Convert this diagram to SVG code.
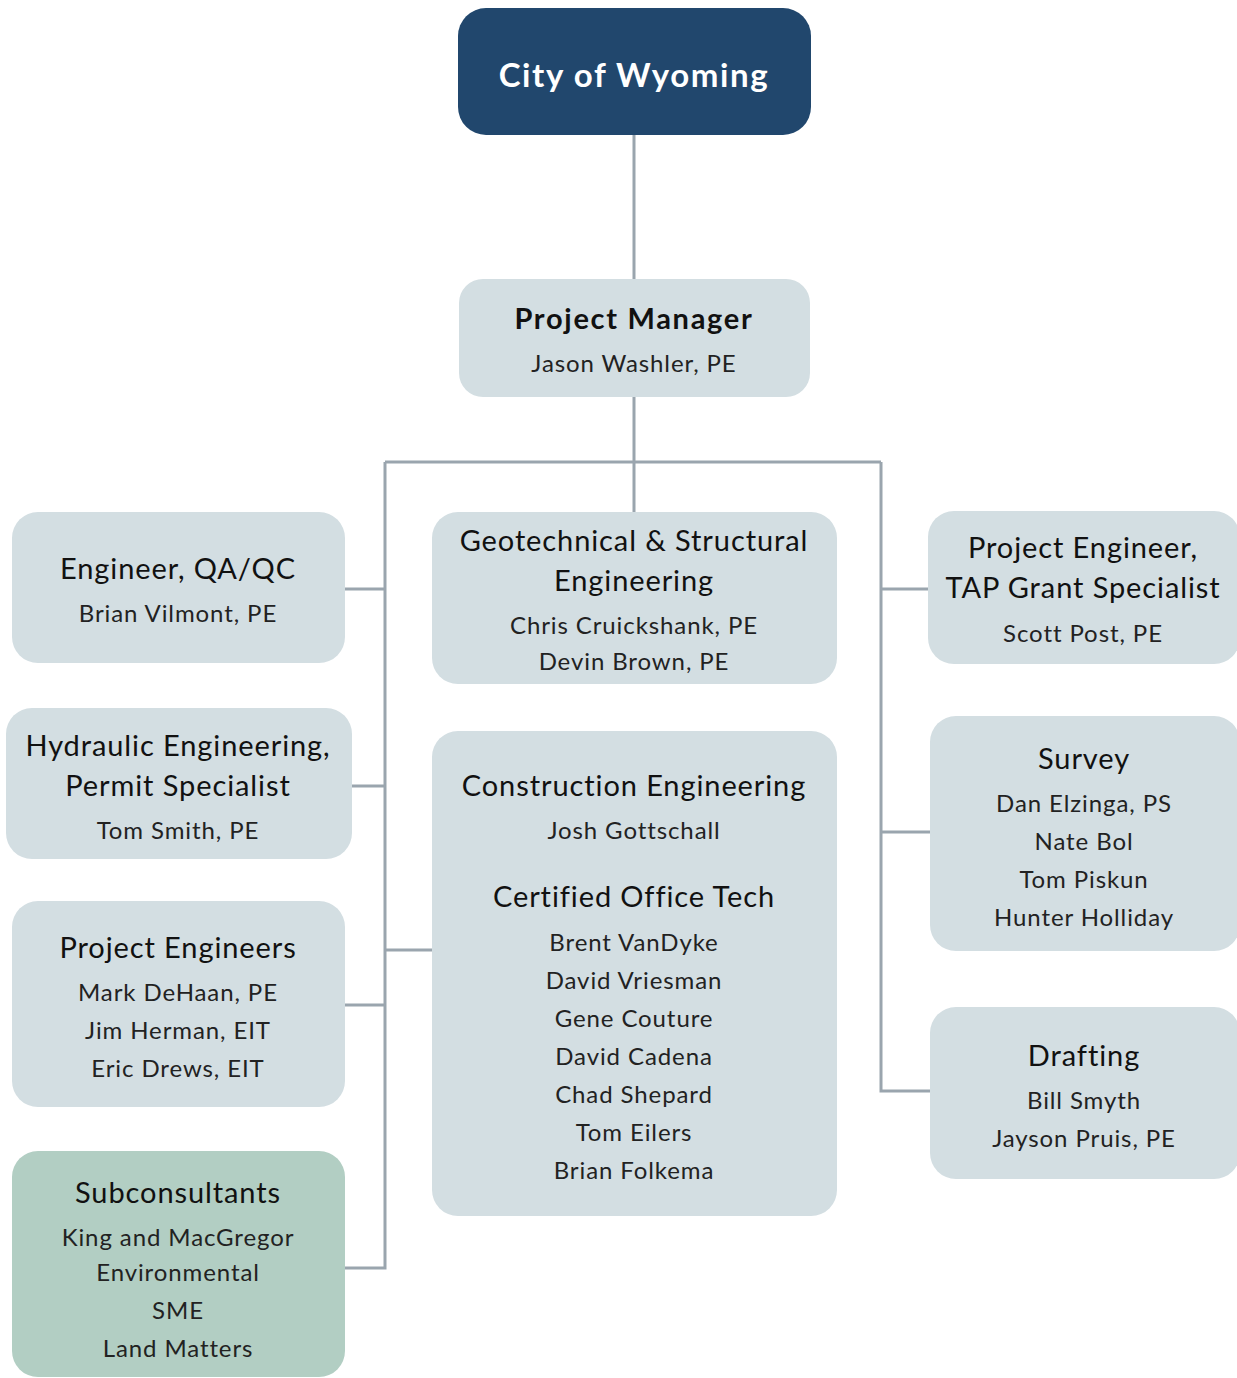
<svg xmlns="http://www.w3.org/2000/svg" width="1237" height="1378" viewBox="0 0 1237 1378">
<style>
.box{fill:#D3DEE2}
.sub{fill:#B2CEC3}
.t{font-family:Lato,"Open Sans",sans-serif;font-size:29px;letter-spacing:0.9px;fill:#111;text-anchor:middle}
.n{font-family:Lato,"Open Sans",sans-serif;font-size:24px;letter-spacing:0.9px;fill:#222;text-anchor:middle}
.b{font-weight:bold}
#connectors path{fill:none;stroke:#9AA5AE;stroke-width:3}
</style>
<rect width="1237" height="1378" fill="#fff"/>
<g id="connectors">
<path d="M634 135V512"/>
<path d="M385 462H881"/>
<path d="M385 462V1268H345"/>
<path d="M881 462V1091H930"/>
<path d="M345 589H385"/>
<path d="M352 786H385"/>
<path d="M345 1005H385"/>
<path d="M385 950H432"/>
<path d="M881 589H928"/>
<path d="M881 832H930"/>
</g>
<g id="city">
<rect x="458" y="8" width="353" height="127" rx="28" fill="#21476D"/>
<text x="634" y="87" class="t b" style="fill:#fff;font-size:33px;letter-spacing:1.6px">City of Wyoming</text>
</g>
<g id="pm">
<rect class="box" x="459" y="279" width="351" height="118" rx="24"/>
<text x="634" y="329" class="t b" style="letter-spacing:1.7px">Project Manager</text>
<text x="634" y="372" class="n">Jason Washler, PE</text>
</g>
<g id="qaqc">
<rect class="box" x="12" y="512" width="333" height="151" rx="26"/>
<text x="178" y="579" class="t">Engineer, QA/QC</text>
<text x="178" y="622" class="n">Brian Vilmont, PE</text>
</g>
<g id="geotech">
<rect class="box" x="432" y="512" width="405" height="172" rx="26"/>
<text x="634" y="551" class="t">Geotechnical &amp; Structural</text>
<text x="634" y="591" class="t">Engineering</text>
<text x="634" y="634" class="n">Chris Cruickshank, PE</text>
<text x="634" y="670" class="n">Devin Brown, PE</text>
</g>
<g id="tap">
<rect class="box" x="928" y="511" width="312" height="153" rx="26"/>
<text x="1083" y="558" class="t">Project Engineer,</text>
<text x="1083" y="598" class="t">TAP Grant Specialist</text>
<text x="1083" y="642" class="n">Scott Post, PE</text>
</g>
<g id="hydraulic">
<rect class="box" x="6" y="708" width="346" height="151" rx="26"/>
<text x="178" y="756" class="t">Hydraulic Engineering,</text>
<text x="178" y="796" class="t">Permit Specialist</text>
<text x="178" y="839" class="n">Tom Smith, PE</text>
</g>
<g id="construction">
<rect class="box" x="432" y="731" width="405" height="485" rx="26"/>
<text x="634" y="796" class="t">Construction Engineering</text>
<text x="634" y="839" class="n">Josh Gottschall</text>
<text x="634" y="907" class="t">Certified Office Tech</text>
<text x="634" y="951" class="n">Brent VanDyke</text>
<text x="634" y="989" class="n">David Vriesman</text>
<text x="634" y="1027" class="n">Gene Couture</text>
<text x="634" y="1065" class="n">David Cadena</text>
<text x="634" y="1103" class="n">Chad Shepard</text>
<text x="634" y="1141" class="n">Tom Eilers</text>
<text x="634" y="1179" class="n">Brian Folkema</text>
</g>
<g id="survey">
<rect class="box" x="930" y="716" width="310" height="235" rx="26"/>
<text x="1084" y="769" class="t">Survey</text>
<text x="1084" y="812" class="n">Dan Elzinga, PS</text>
<text x="1084" y="850" class="n">Nate Bol</text>
<text x="1084" y="888" class="n">Tom Piskun</text>
<text x="1084" y="926" class="n">Hunter Holliday</text>
</g>
<g id="projeng">
<rect class="box" x="12" y="901" width="333" height="206" rx="26"/>
<text x="178" y="958" class="t">Project Engineers</text>
<text x="178" y="1001" class="n">Mark DeHaan, PE</text>
<text x="178" y="1039" class="n">Jim Herman, EIT</text>
<text x="178" y="1077" class="n">Eric Drews, EIT</text>
</g>
<g id="drafting">
<rect class="box" x="930" y="1007" width="310" height="172" rx="26"/>
<text x="1084" y="1066" class="t">Drafting</text>
<text x="1084" y="1109" class="n">Bill Smyth</text>
<text x="1084" y="1147" class="n">Jayson Pruis, PE</text>
</g>
<g id="subconsultants">
<rect class="sub" x="12" y="1151" width="333" height="226" rx="26"/>
<text x="178" y="1203" class="t">Subconsultants</text>
<text x="178" y="1246" class="n">King and MacGregor</text>
<text x="178" y="1281" class="n">Environmental</text>
<text x="178" y="1319" class="n">SME</text>
<text x="178" y="1357" class="n">Land Matters</text>
</g>
</svg>
